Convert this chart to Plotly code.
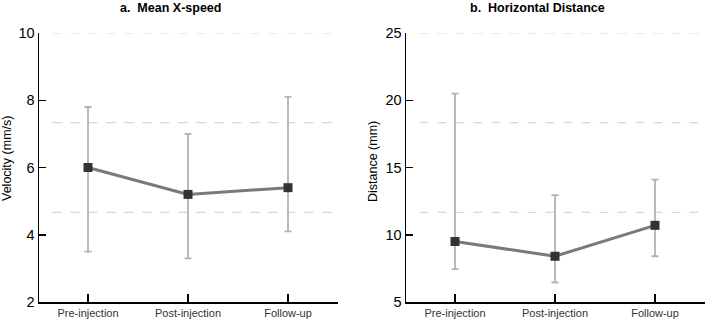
import plotly.graph_objects as go

categories = ["Pre-injection", "Post-injection", "Follow-up"]

speed_mean = [6.0, 5.2, 5.4]
speed_low = [3.5, 3.3, 4.1]
speed_high = [7.8, 7.0, 8.1]

dist_mean = [9.5, 8.4, 10.7]
dist_low = [7.45, 6.45, 8.4]
dist_high = [20.5, 12.95, 14.1]

speed_ticks = [2, 4, 6, 8, 10]
dist_ticks = [5, 10, 15, 20, 25]
speed_grid = [10, 2 + 16 / 3, 2 + 8 / 3]
dist_grid = [25, 5 + 40 / 3, 5 + 20 / 3]

FONT = "Liberation Sans, Arial, sans-serif"
LINE_C = "#7a7a7a"
ERR_C = "#b3b3b3"
MARK_C = "#333333"

W, H = 707, 323
TOP, BOT = 33, 302
PH = BOT - TOP


def py(p):
    """pixel row -> paper y"""
    return 1 - (p - TOP) / PH


fig = go.Figure()


def add_panel(mean, low, high, xa, ya):
    xs = list(range(len(categories)))
    fig.add_trace(go.Scatter(
        x=xs, y=mean, mode="lines",
        line=dict(color=LINE_C, width=3),
        error_y=dict(type="data", symmetric=False,
                     array=[h - m for h, m in zip(high, mean)],
                     arrayminus=[m - l for m, l in zip(mean, low)],
                     color=ERR_C, thickness=1.8, width=3.5),
        xaxis=xa, yaxis=ya, showlegend=False, hoverinfo="skip"))
    fig.add_trace(go.Scatter(
        x=xs, y=mean, mode="markers",
        marker=dict(symbol="square", size=9, color=MARK_C),
        xaxis=xa, yaxis=ya, showlegend=False, hoverinfo="skip"))


add_panel(speed_mean, speed_low, speed_high, "x", "y")
add_panel(dist_mean, dist_low, dist_high, "x2", "y2")

shapes = []
for g in speed_grid:
    shapes.append(dict(type="line", xref="x domain", yref="y", x0=0.045, x1=1, y0=g, y1=g,
                       line=dict(color="#d6d6d6", width=1.2, dash="dash"), layer="below"))
for g in dist_grid:
    shapes.append(dict(type="line", xref="x2 domain", yref="y2", x0=0.045, x1=1, y0=g, y1=g,
                       line=dict(color="#d6d6d6", width=1.2, dash="dash"), layer="below"))

xaxis_common = dict(
    range=[-0.49, 2.5], tickmode="array", tickvals=[0, 1, 2], ticktext=categories,
    showline=True, linecolor="black", linewidth=1.5, ticks="inside", ticklen=8,
    tickwidth=1.5, tickcolor="black", showgrid=False, zeroline=False, automargin=False,
    tickfont=dict(family=FONT, size=11, color="#333333"), fixedrange=True)

yaxis_common = dict(
    showline=True, linecolor="black", linewidth=1.5, ticks="inside", ticklen=7,
    tickwidth=1.5, tickcolor="black", showgrid=False, zeroline=False, automargin=False,
    tickfont=dict(family=FONT, size=14.5, color="black"), fixedrange=True)

fig.update_layout(
    width=W, height=H,
    margin=dict(l=0, r=0, t=TOP, b=H - BOT),
    paper_bgcolor="white", plot_bgcolor="white",
    font=dict(family=FONT),
    hovermode=False,
    xaxis=dict(domain=[39 / W, 338 / W], anchor="y", **xaxis_common),
    xaxis2=dict(domain=[406 / W, 705 / W], anchor="y2", **xaxis_common),
    yaxis=dict(domain=[0, 1], anchor="x", range=[2, 10], tickvals=speed_ticks, **yaxis_common),
    yaxis2=dict(domain=[0, 1], anchor="x2", range=[5, 25], tickvals=dist_ticks, **yaxis_common),
    shapes=shapes,
    annotations=[
        dict(text="<b>a.  Mean X-speed</b>", x=170 / W, y=py(7.5), xref="paper", yref="paper",
             yanchor="middle", xanchor="center", showarrow=False,
             font=dict(family=FONT, size=12.5, color="black")),
        dict(text="<b>b.  Horizontal Distance</b>", x=537 / W, y=py(7.5), xref="paper", yref="paper",
             yanchor="middle", xanchor="center", showarrow=False,
             font=dict(family=FONT, size=12.5, color="black")),
        dict(text="Velocity (mm/s)", x=7 / W, y=py(159), xref="paper", yref="paper",
             textangle=-90, xanchor="center", yanchor="middle", showarrow=False,
             font=dict(family=FONT, size=12.5, color="black")),
        dict(text="Distance (mm)", x=373 / W, y=py(162), xref="paper", yref="paper",
             textangle=-90, xanchor="center", yanchor="middle", showarrow=False,
             font=dict(family=FONT, size=12.5, color="black")),
    ],
)

fig.write_html("out.html", config={"displayModeBar": False, "staticPlot": True},
               post_script="document.body.style.margin='0px';")
